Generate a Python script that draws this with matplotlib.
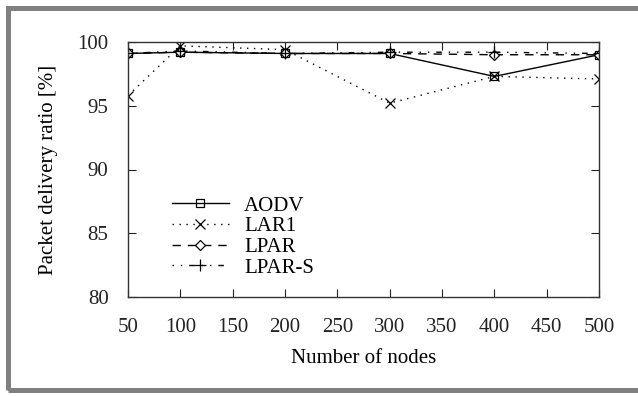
import matplotlib
matplotlib.use('Agg')
import matplotlib.pyplot as plt
from matplotlib.patches import Rectangle

plt.rcParams['font.family'] = ['Liberation Serif', 'DejaVu Serif']

# data
nodes = [50, 100, 200, 300, 400, 500]
aodv = [99.1, 99.2, 99.1, 99.1, 97.3, 99.0]
lar1 = [95.8, 99.7, 99.4, 95.2, 97.3, 97.1]
lpar = [99.1, 99.2, 99.1, 99.1, 99.0, 99.0]
lpar_s = [99.1, 99.3, 99.1, 99.2, 99.2, 99.1]
xticks = [50, 100, 150, 200, 250, 300, 350, 400, 450, 500]
yticks = [80, 85, 90, 95, 100]

W, H = 638, 396
fig = plt.figure(figsize=(W / 100, H / 100), dpi=100)
ax = fig.add_axes([128 / W, 1 - 297 / H, (599 - 128) / W, (297 - 42) / H])

ax.plot(nodes, aodv, color='black', lw=1, ls='-', marker='s', ms=6,
        mfc='none', mew=0.9, label='AODV')
ax.plot(nodes, lar1, color='black', lw=1, ls=(0, (1, 4)), marker='x', ms=7,
        mew=0.9, label='LAR1')
ax.plot(nodes, lpar, color='black', lw=1, ls=(0, (6, 5)), marker='D', ms=5,
        mfc='white', mew=0.9, label='LPAR')
ax.plot(nodes, lpar_s, color='black', lw=1, ls=(0, (1, 5, 1, 5, 4, 5)),
        marker='+', ms=8, mew=0.9, label='LPAR-S')

ax.set_xlim(50, 500)
ax.set_ylim(80, 100)
ax.set_xticks(xticks)
ax.set_yticks(yticks)
ax.tick_params(direction='in', length=6, width=0.8, top=True, right=True,
               labelsize=15, pad=15, colors='#222222')
ax.tick_params(axis='y', pad=14)
for s in ax.spines.values():
    s.set_linewidth(1.0)
    s.set_color('#333333')

ax.set_xlabel('Number of nodes', fontsize=15, labelpad=9)
ax.set_ylabel('Packet delivery ratio [%]', fontsize=15, labelpad=14)

ax.legend(loc='lower left', bbox_to_anchor=(0.072, 0.035), frameon=False,
          fontsize=15, handlelength=2.7, handletextpad=0.75, labelspacing=0.05,
          borderpad=0)

# grey frame around the figure
fig.patches.append(Rectangle((8 / W, 1 - 390 / H), 700 / W, (390 - 7.5) / H,
                             transform=fig.transFigure, fill=False,
                             edgecolor='#808080', lw=3.6))

fig.savefig('out.png', dpi=100)
